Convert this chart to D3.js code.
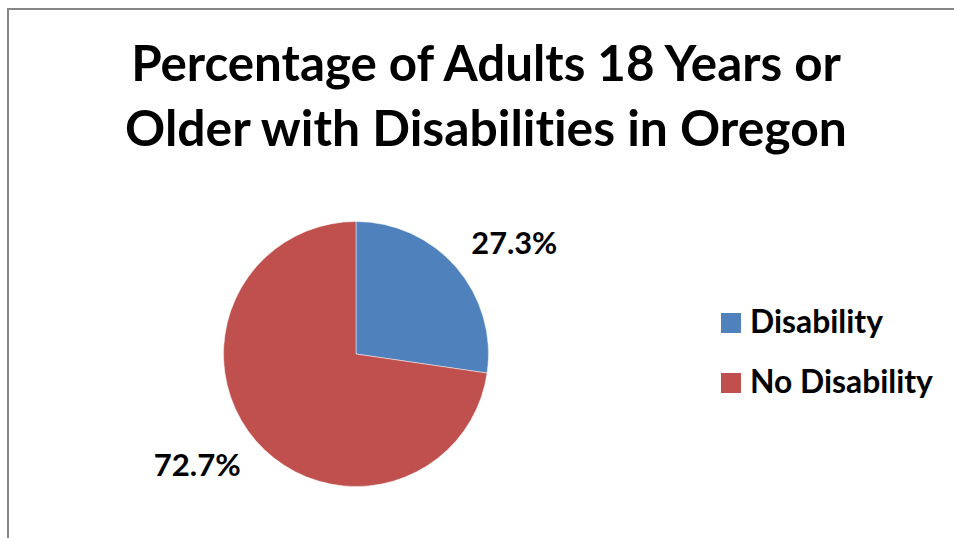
<!DOCTYPE html>
<html>
<head>
<meta charset="utf-8">
<script src="https://cdn.jsdelivr.net/npm/d3@7"></script>
<style>
  html, body { margin: 0; padding: 0; background: #fff; }
  svg { display: block; }
  text { font-family: Lato, "Open Sans", sans-serif; font-weight: bold; fill: #000;
         font-variant-ligatures: none; font-feature-settings: "liga" 0, "dlig" 0; }
</style>
</head>
<body>
<svg id="chart" width="954" height="538"></svg>
<script>
// Chart data
const categories = ["Disability", "No Disability"];
const values = [27.3, 72.7];
const colors = ["#4F81BD", "#C0504D"];
const titleLines = ["Percentage of Adults 18 Years or", "Older with Disabilities in Oregon"];

const svg = d3.select("#chart");

// Chart-area frame (only the top and left edges fall inside the view)
svg.append("rect")
  .attr("x", 8).attr("y", 9)
  .attr("width", 1000).attr("height", 600)
  .attr("fill", "#fff")
  .attr("stroke", "#878787")
  .attr("stroke-width", 2);

// Fit a text element to a target width by scaling its font size
function fitText(sel, size, targetWidth) {
  sel.style("font-size", size + "px");
  const w = sel.node().getComputedTextLength();
  sel.style("font-size", (size * targetWidth / w) + "px");
  return sel;
}

// Title
const titleSpecs = [
  { y: 81, width: 710 },
  { y: 146, width: 722 }
];
titleLines.forEach((t, i) => {
  const el = svg.append("text")
    .attr("x", 486)
    .attr("y", titleSpecs[i].y)
    .attr("text-anchor", "middle")
    .text(t);
  fitText(el, 40, titleSpecs[i].width);
});

// Pie
const cx = 356, cy = 354, r = 132.5;
const data = categories.map((c, i) => ({ category: c, value: values[i], color: colors[i] }));
const pie = d3.pie().sort(null).value(d => d.value).startAngle(0).endAngle(2 * Math.PI);
const arc = d3.arc().innerRadius(0).outerRadius(r);
const arcs = pie(data);

const g = svg.append("g").attr("transform", `translate(${cx},${cy})`);
g.selectAll("path")
  .data(arcs)
  .join("path")
  .attr("d", arc)
  .attr("fill", d => d.data.color)
  .attr("stroke", "#ffffff")
  .attr("stroke-opacity", 0.6)
  .attr("stroke-width", 0.8);

// Percentage labels: the text box sits just outside the slice's mid-angle point
const labelR = r + 20, capH = 22;
const fmt = v => v.toFixed(1) + "%";
const labelWidths = [86, 87];
g.selectAll("text.pct")
  .data(arcs)
  .join("text")
  .attr("class", "pct")
  .each(function (d, i) {
    const a = (d.startAngle + d.endAngle) / 2;
    const px = Math.sin(a) * labelR, py = -Math.cos(a) * labelR;
    d3.select(this)
      .attr("text-anchor", px >= 0 ? "start" : "end")
      .attr("x", px)
      .attr("y", py < 0 ? py : py + capH)
      .text(fmt(d.data.value));
    fitText(d3.select(this), 30, labelWidths[i]);
  });

// Legend
const legend = svg.append("g").attr("transform", "translate(721,313)");
const legendWidths = [133, 183];
const items = legend.selectAll("g.item")
  .data(data)
  .join("g")
  .attr("class", "item")
  .attr("transform", (d, i) => `translate(0,${i * 60})`);
items.append("rect")
  .attr("width", 20).attr("height", 20)
  .attr("fill", d => d.color);
items.append("text")
  .attr("x", 29).attr("y", 19.5)
  .text(d => d.category)
  .each(function (d, i) { fitText(d3.select(this), 30, legendWidths[i]); });
</script>
</body>
</html>
